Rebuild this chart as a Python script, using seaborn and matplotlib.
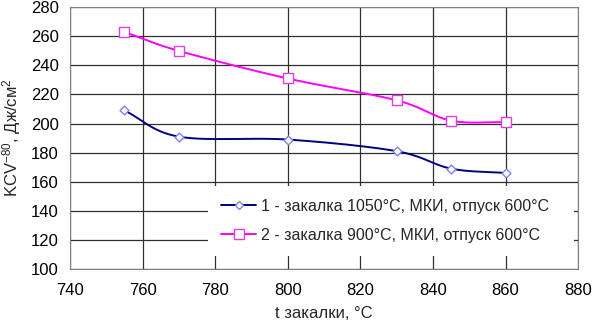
import numpy as np
import pandas as pd
import matplotlib
matplotlib.use("Agg")
import matplotlib.pyplot as plt
import seaborn as sns

# data
t_quench = [755, 770, 800, 830, 845, 860]
kcv_1050 = [209, 191, 189, 181, 169, 166]
kcv_900 = [263, 250, 231, 216, 202, 201]
labels = ["1 - закалка 1050°С, МКИ, отпуск 600°С",
          "2 - закалка 900°С, МКИ, отпуск 600°С"]

sns.set_style("white")
plt.rcParams['font.family'] = ['Liberation Sans', 'DejaVu Sans']
plt.rcParams['mathtext.fontset'] = 'custom'
plt.rcParams['mathtext.rm'] = 'Liberation Sans'
plt.rcParams['mathtext.it'] = 'Liberation Sans'


def smooth(x, y, n=30):
    # Catmull-Rom style curve through the points (Excel-like smoothed line)
    x = np.asarray(x, float)
    y = np.asarray(y, float)
    px = np.concatenate([[2 * x[0] - x[1]], x, [2 * x[-1] - x[-2]]])
    py = np.concatenate([[2 * y[0] - y[1]], y, [2 * y[-1] - y[-2]]])
    xs, ys = [], []
    t = np.linspace(0, 1, n)
    for i in range(1, len(px) - 2):
        p0, p1, p2, p3 = [np.array([px[j], py[j]]) for j in range(i - 1, i + 3)]
        c = 0.5 * ((2 * p1)[:, None] + (-p0 + p2)[:, None] * t
                   + (2 * p0 - 5 * p1 + 4 * p2 - p3)[:, None] * t ** 2
                   + (-p0 + 3 * p1 - 3 * p2 + p3)[:, None] * t ** 3)
        xs.extend(c[0])
        ys.extend(c[1])
    return xs, ys


fig, ax = plt.subplots(figsize=(5.93, 3.30), dpi=100)
fig.subplots_adjust(left=0.118, right=0.975, top=0.978, bottom=0.185)

series = [(kcv_1050, "#000080", "D", "#8080ff", 4.5),
          (kcv_900, "#ff00ff", "s", "#e040e0", 7)]
for (vals, col, mk, mec, ms), lab in zip(series, labels):
    sx, sy = smooth(t_quench, vals)
    sns.lineplot(x=sx, y=sy, ax=ax, color=col, lw=1.4, sort=False,
                 estimator=None, legend=False)
    sns.scatterplot(x=t_quench, y=vals, ax=ax, marker=mk, s=ms ** 2,
                    facecolor="white", edgecolor=mec, linewidth=1.0,
                    zorder=4, legend=False)
    ax.plot([], [], color=col, lw=1.4, marker=mk, ms=ms, mfc="white",
            mec=mec, label=lab)

ax.set_xlim(740, 880)
ax.set_ylim(100, 280)
ax.set_xticks(np.arange(740, 881, 20))
ax.set_yticks(np.arange(100, 281, 20))
ax.grid(True, color="#303030", lw=0.9)
ax.set_axisbelow(True)
for s in ax.spines.values():
    s.set_color("#808080")
ax.tick_params(labelsize=12, length=3, direction="in", colors="black")
ax.tick_params(axis="x", pad=10)
ax.tick_params(axis="y", pad=8)
ax.set_xlabel("t закалки, °С", fontsize=12, labelpad=6)
ax.set_ylabel(r"KCV$^{-80}$, Дж/см$^2$", fontsize=12, labelpad=6)

leg = ax.legend(loc="lower left", bbox_to_anchor=(0.272, 0.05, 0.72, 0.27),
                mode="expand", fontsize=11.5,
                frameon=True, framealpha=1, edgecolor="white",
                fancybox=False, handlelength=2.2, handletextpad=0.3,
                borderpad=0.8, labelspacing=0.9, borderaxespad=0)
leg.get_frame().set_linewidth(0)

plt.savefig("out.png", dpi=100)
